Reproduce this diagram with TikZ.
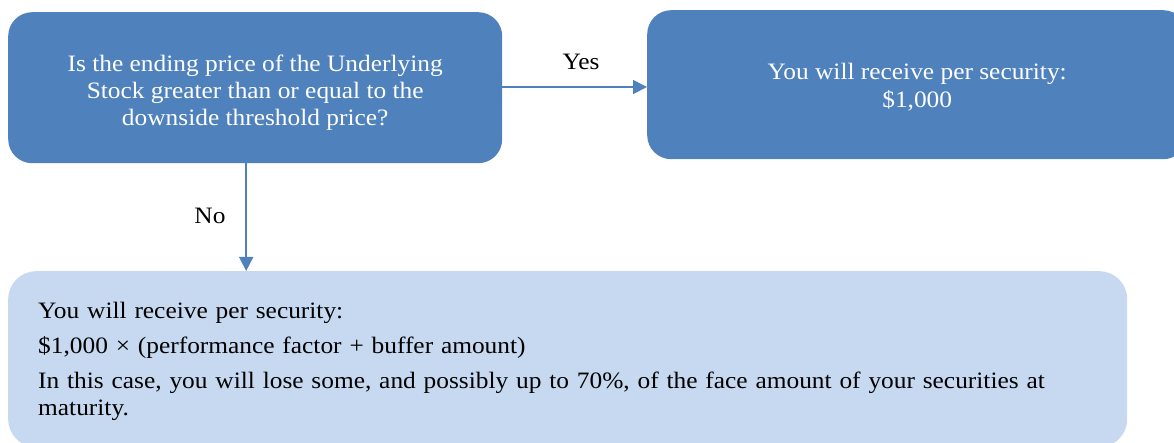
\documentclass[tikz,border=0pt]{standalone}
\usepackage{fontspec}
\setmainfont[FakeStretch=1.08]{Liberation Serif}
\usetikzlibrary{arrows.meta,calc}
\definecolor{dark}{HTML}{4F81BD}
\definecolor{light}{HTML}{C6D9F0}
\tikzset{
  darkbox/.style={fill=dark, draw=none, rounded corners=24pt, text=white, align=center,
    font=\fontsize{23.5}{27.2}\selectfont, inner sep=0pt},
  lightbox/.style={fill=light, draw=none, rounded corners=28pt, text=black, align=left,
    font=\fontsize{23.5}{27}\selectfont, inner xsep=30pt, inner ysep=0pt},
  conn/.style={draw=dark, line width=1.6pt, -{Triangle[length=14pt,width=14pt]}},
  lbl/.style={text=black, font=\fontsize{23.5}{27}\selectfont, inner sep=0pt}
}
\begin{document}
\begin{tikzpicture}[x=1pt,y=-1pt]
\useasboundingbox (0,0) rectangle (1174,443);
\clip (0,0) rectangle (1174,443);
\node[darkbox, minimum width=494pt, minimum height=151pt, anchor=north west] (A) at (8,12)
  {\parbox{494pt}{\vspace*{10pt}\centering Is the ending price of the Underlying\\Stock greater than or equal to the\\downside threshold price?}};
\node[darkbox, minimum width=540pt, minimum height=149pt, anchor=north west] (B) at (647,10)
  {\parbox{500pt}{\vspace*{5pt}\centering You will receive per security:\\\$1,000}};
\node[lightbox, minimum width=1119pt, minimum height=176pt, text width=1059pt, anchor=north west] (C) at (8,271)
  {\parbox{1059pt}{\vspace*{5pt}You will receive per security:\\[8pt]
   \$1,000 × (performance factor + buffer amount)\\[8pt]
   In this case, you will lose some, and possibly up to 70\%, of the face amount of your securities at\\
   maturity.}};
\draw[conn] (A.east |- 0,87) -- (B.west |- 0,87);
\draw[conn] ([xshift=-9pt]A.south) -- ([xshift=-9pt]A.south |- C.north);
\node[lbl] (yes) at (581,62) {Yes};
\node[lbl] (no) at (210,216) {No};
\end{tikzpicture}
\end{document}
